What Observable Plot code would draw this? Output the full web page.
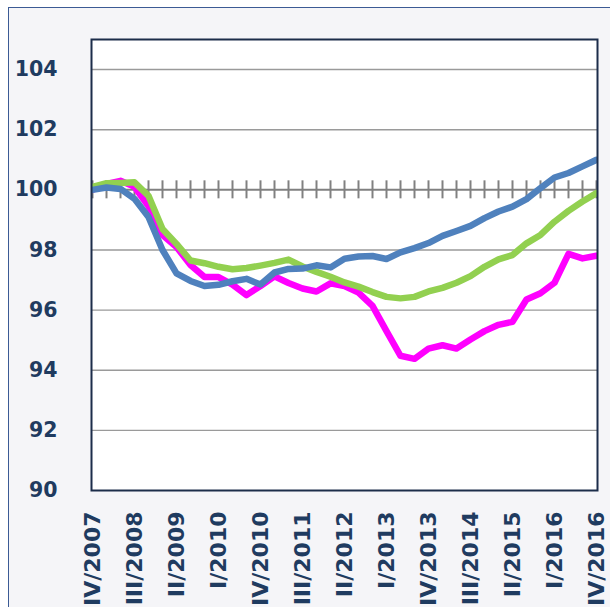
<!DOCTYPE html>
<html><head><meta charset="utf-8">
<script src="https://cdn.jsdelivr.net/npm/d3@7"></script>
<script src="https://cdn.jsdelivr.net/npm/@observablehq/plot@0.6"></script>
<style>
html,body{margin:0;padding:0;background:#fff;width:610px;height:607px;overflow:hidden}
#panel{position:absolute;left:8px;top:7px;width:700px;height:700px;background:#f5f5f8;border-left:1.5px solid #3b5a94;border-top:1.5px solid #3b5a94}
#chart{position:absolute;left:0;top:0}
</style></head><body><div id="panel"></div><div id="chart"></div>
<script>
const quarters = ["IV/2007","I/2008","II/2008","III/2008","IV/2008","I/2009","II/2009","III/2009","IV/2009","I/2010","II/2010","III/2010","IV/2010","I/2011","II/2011","III/2011","IV/2011","I/2012","II/2012","III/2012","IV/2012","I/2013","II/2013","III/2013","IV/2013","I/2014","II/2014","III/2014","IV/2014","I/2015","II/2015","III/2015","IV/2015","I/2016","II/2016","III/2016","IV/2016"];
const xTickLabels = ["IV/2007","III/2008","II/2009","I/2010","IV/2010","III/2011","II/2012","I/2013","IV/2013","III/2014","II/2015","I/2016","IV/2016"];
const yTicks = [90,92,94,96,98,100,102,104];
const gridValues = [92,94,96,98,102,104];
const baseValue = [100];

const seriesMagenta = [100.0,100.2,100.3,100.1,99.45,98.5,98.1,97.5,97.1,97.1,96.85,96.5,96.8,97.12,96.9,96.72,96.62,96.89,96.8,96.58,96.14,95.3,94.48,94.38,94.72,94.83,94.72,95.02,95.3,95.51,95.61,96.35,96.56,96.91,97.87,97.72,97.81];
const seriesGreen = [100.1,100.22,100.23,100.25,99.8,98.7,98.2,97.65,97.56,97.44,97.36,97.4,97.48,97.57,97.68,97.45,97.27,97.11,96.92,96.78,96.6,96.44,96.39,96.44,96.62,96.74,96.91,97.13,97.44,97.69,97.83,98.22,98.5,98.94,99.3,99.61,99.89];
const seriesBlue = [100.0,100.08,100.03,99.7,99.1,98.0,97.22,96.97,96.8,96.84,96.96,97.04,96.85,97.25,97.37,97.38,97.49,97.42,97.71,97.78,97.8,97.7,97.92,98.06,98.23,98.47,98.63,98.8,99.06,99.28,99.44,99.69,100.06,100.41,100.56,100.78,101.0];

const toRows = (vals) => vals.map((v, i) => ({q: quarters[i], v}));
const lineOpts = {x: "q", y: "v", strokeWidth: 6.5, strokeLinejoin: "round", clip: true};
const textColor = "#1f3b60";

const plot = Plot.plot({
  width: 610, height: 607,
  marginLeft: 91, marginRight: 13, marginTop: 39, marginBottom: 117,
  style: {background: "transparent", fontFamily: "DejaVu Sans", fontWeight: "bold", color: textColor, overflow: "visible"},
  x: {type: "point", domain: quarters, padding: 0},
  y: {domain: [90, 105]},
  marks: [
    Plot.frame({fill: "white", stroke: "none"}),
    Plot.ruleY(gridValues, {stroke: "#9a9a9a", strokeWidth: 1.4}),
    Plot.ruleY(baseValue, {stroke: "#808080", strokeWidth: 2}),
    Plot.ruleX(quarters, {x: d => d, y1: 100, y2: 100, insetTop: -9, insetBottom: -9, stroke: "#808080", strokeWidth: 2}),
    Plot.line(toRows(seriesMagenta), {...lineOpts, stroke: "#ff00ff"}),
    Plot.line(toRows(seriesGreen), {...lineOpts, stroke: "#92d050"}),
    Plot.line(toRows(seriesBlue), {...lineOpts, stroke: "#4f81bd"}),
    Plot.frame({stroke: "#1c2d4a", strokeWidth: 2}),
    Plot.axisY({ticks: yTicks, tickSize: 0, tickPadding: 34, label: null, fontSize: 20.5, fill: textColor}),
    Plot.axisX({ticks: xTickLabels, tickRotate: -90, tickSize: 0, tickPadding: 21, label: null, fontSize: 22, fill: textColor})
  ]
});
document.getElementById("chart").appendChild(plot);
</script></body></html>
